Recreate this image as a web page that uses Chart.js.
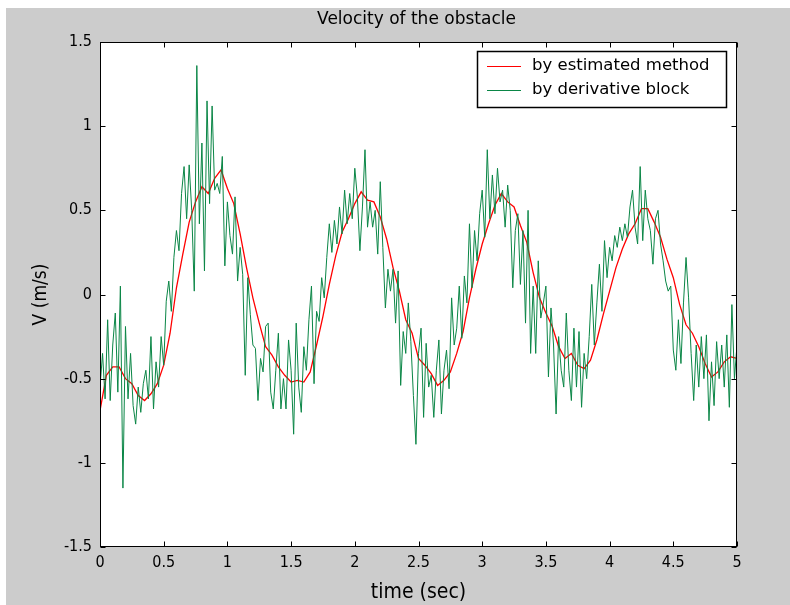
<!DOCTYPE html>
<html>
<head>
<meta charset="utf-8">
<script src="https://cdn.jsdelivr.net/npm/chart.js@4.4.1/dist/chart.umd.min.js"></script>
<style>
  html, body { margin: 0; padding: 0; background: #ffffff; }
  #wrap { width: 790px; height: 605px; }
</style>
</head>
<body>
<div id="wrap"><canvas id="c" width="790" height="605"></canvas></div>
<script>
// Sample spacing (seconds) of each recorded series
const estimatedStep = 0.05;
const derivativeStep = 0.02;

// Obstacle velocity from the estimator (m/s), t = 0 .. 5 s
const estimatedVelocity = [
  -0.69, -0.48, -0.43, -0.43, -0.50, -0.53, -0.60, -0.63, -0.59, -0.53,
  -0.42, -0.23,  0.04,  0.24,  0.43,  0.55,  0.64,  0.60,  0.69,  0.74,
   0.63,  0.54,  0.36,  0.16, -0.02, -0.17, -0.31, -0.36, -0.43, -0.48,
  -0.52, -0.51, -0.52, -0.46, -0.30, -0.13,  0.06,  0.23,  0.37,  0.45,
   0.54,  0.61,  0.56,  0.55,  0.46,  0.33,  0.16,  0.02, -0.15, -0.23,
  -0.38, -0.42, -0.47, -0.54, -0.51, -0.46, -0.35, -0.22, -0.02,  0.15,
   0.30,  0.42,  0.53,  0.60,  0.55,  0.52,  0.41,  0.31,  0.13, -0.02,
  -0.11, -0.19, -0.31, -0.38, -0.35, -0.42, -0.44, -0.39, -0.27, -0.12,
   0.02,  0.16,  0.27,  0.36,  0.42,  0.51,  0.51,  0.43,  0.34,  0.21,
   0.10, -0.06, -0.18, -0.23, -0.31, -0.41, -0.49, -0.46, -0.40, -0.37,
  -0.38
];

// Obstacle velocity from the derivative block (m/s), t = 0 .. 5 s
const derivativeVelocity = [
  -0.55, -0.35, -0.62, -0.15, -0.63, -0.30, -0.11, -0.58,  0.05, -1.15,
  -0.19, -0.62, -0.35, -0.66, -0.77, -0.55, -0.70, -0.53, -0.45, -0.62,
  -0.25, -0.68, -0.40, -0.55, -0.25, -0.42, -0.04,  0.08, -0.10,  0.22,
   0.38,  0.26,  0.60,  0.76,  0.45,  0.77,  0.50,  0.02,  1.36,  0.42,
   0.90,  0.14,  1.15,  0.54,  1.12,  0.62,  0.66,  0.60,  0.82,  0.17,
   0.55,  0.35,  0.24,  0.58,  0.08,  0.28,  0.12, -0.48,  0.10, -0.12,
  -0.30, -0.32, -0.63, -0.38, -0.46, -0.19, -0.17, -0.58, -0.68, -0.45,
  -0.23, -0.68, -0.50, -0.68, -0.27, -0.45, -0.83, -0.17, -0.55, -0.70,
  -0.31, -0.45, -0.15,  0.05, -0.53, -0.10, -0.16,  0.10, -0.02,  0.22,
   0.42,  0.25,  0.44,  0.30,  0.52,  0.36,  0.62,  0.42,  0.60,  0.45,
   0.75,  0.58,  0.26,  0.52,  0.86,  0.40,  0.55,  0.40,  0.50,  0.24,
   0.67,  0.28, -0.08,  0.15,  0.02,  0.15, -0.17,  0.14, -0.54, -0.22,
  -0.35, -0.05, -0.28, -0.60, -0.89, -0.35, -0.20, -0.73, -0.29, -0.55,
  -0.48, -0.73, -0.45, -0.27, -0.71, -0.45, -0.33, -0.56, -0.02, -0.30,
  -0.20,  0.05, -0.26,  0.11, -0.05,  0.42,  0.04,  0.38,  0.20,  0.48,
   0.62,  0.34,  0.86,  0.45,  0.71,  0.48,  0.75,  0.55,  0.62,  0.40,
   0.65,  0.50,  0.04,  0.38,  0.48,  0.06,  0.38, -0.17,  0.50, -0.35,
   0.05, -0.35,  0.20, -0.14, -0.05,  0.05, -0.49, -0.08, -0.30, -0.71,
  -0.25, -0.45, -0.55, -0.11, -0.45, -0.63, -0.20, -0.55, -0.22, -0.67,
  -0.35, -0.50, -0.25,  0.06, -0.30, -0.05,  0.18, -0.10,  0.32,  0.10,
   0.28,  0.20,  0.35,  0.28,  0.40,  0.32,  0.42,  0.34,  0.52,  0.62,
   0.40,  0.30,  0.76,  0.32,  0.62,  0.45,  0.38,  0.18,  0.45,  0.50,
   0.30,  0.20,  0.08,  0.02,  0.05, -0.33, -0.45, -0.15, -0.41, -0.05,
   0.22, -0.02, -0.35, -0.63, -0.30, -0.55, -0.25, -0.50, -0.24, -0.75,
  -0.40, -0.66, -0.28, -0.50, -0.30, -0.55, -0.24, -0.67, -0.06, -0.50,
  -0.30
];

// Axis ticks
const timeTicks = [0, 0.5, 1, 1.5, 2, 2.5, 3, 3.5, 4, 4.5, 5];
const timeTickLabels = ['0', '0.5', '1', '1.5', '2', '2.5', '3', '3.5', '4', '4.5', '5'];
const velocityTicks = [-1.5, -1, -0.5, 0, 0.5, 1, 1.5];
const velocityTickLabels = ['-1.5', '-1', '-0.5', '0', '0.5', '1', '1.5'];

const seriesNames = ['by estimated method', 'by derivative block'];
const titleText = 'Velocity of the obstacle';

const toPoints = (values, step) =>
  values.map((v, i) => ({ x: Math.round(i * step * 1000) / 1000, y: v }));

const narrowFont = "'Liberation Sans Narrow', 'DejaVu Sans Condensed', 'Liberation Sans', sans-serif";
const plainFont = "'DejaVu Sans', 'Liberation Sans', sans-serif";

const RED = '#ff0000';
const GREEN = '#0a8646';

// Figure background, inward tick marks, axes box, title and boxed legend
const figureDecor = {
  id: 'figureDecor',
  beforeDraw(chart) {
    const ctx = chart.ctx;
    const a = chart.chartArea;
    ctx.save();
    ctx.fillStyle = '#ffffff';
    ctx.fillRect(0, 0, chart.width, chart.height);
    ctx.fillStyle = '#cccccc';
    ctx.fillRect(6, 8, chart.width - 6, chart.height - 8);
    ctx.fillStyle = '#ffffff';
    ctx.fillRect(a.left, a.top, a.right - a.left, a.bottom - a.top);
    ctx.restore();
  },
  afterDatasetsDraw(chart) {
    const ctx = chart.ctx;
    const a = chart.chartArea;
    const xs = chart.scales.x, ys = chart.scales.y;
    const L = Math.round(a.left) + 0.5, R = Math.round(a.right) - 0.5;
    const T = Math.round(a.top) + 0.5, B = Math.round(a.bottom) - 0.5;
    const tick = 5;
    ctx.save();
    ctx.strokeStyle = '#000000';
    ctx.lineWidth = 1;
    ctx.beginPath();
    timeTicks.forEach(v => {
      const px = Math.round(xs.getPixelForValue(v)) + 0.5;
      ctx.moveTo(px, B); ctx.lineTo(px, B - tick);
      ctx.moveTo(px, T); ctx.lineTo(px, T + tick);
    });
    velocityTicks.forEach(v => {
      const py = Math.round(ys.getPixelForValue(v)) + 0.5;
      ctx.moveTo(L, py); ctx.lineTo(L + tick, py);
      ctx.moveTo(R, py); ctx.lineTo(R - tick, py);
    });
    ctx.stroke();
    ctx.strokeRect(L, T, R - L, B - T);

    // title
    ctx.fillStyle = '#000000';
    ctx.font = '17px ' + plainFont;
    ctx.textAlign = 'center';
    ctx.textBaseline = 'middle';
    ctx.fillText(titleText, (a.left + a.right) / 2 - 2, 20);

    // legend box
    const bx = 477.5, by = 51.5, bw = 249, bh = 56;
    ctx.fillStyle = '#ffffff';
    ctx.fillRect(bx, by, bw, bh);
    ctx.lineWidth = 1.5;
    ctx.strokeStyle = '#000000';
    ctx.strokeRect(bx, by, bw, bh);
    const colors = [RED, GREEN];
    ctx.font = '16.5px ' + plainFont;
    ctx.textAlign = 'left';
    seriesNames.forEach((name, i) => {
      const ly = 66 + i * 24;
      ctx.strokeStyle = colors[i];
      ctx.lineWidth = 1.2;
      ctx.beginPath();
      ctx.moveTo(487, ly + 0.5); ctx.lineTo(521, ly + 0.5);
      ctx.stroke();
      ctx.fillStyle = '#000000';
      ctx.fillText(name, 532, ly);
    });
    ctx.restore();
  }
};

new Chart(document.getElementById('c'), {
  type: 'line',
  data: {
    datasets: [
      {
        label: seriesNames[1],
        data: toPoints(derivativeVelocity, derivativeStep),
        borderColor: GREEN,
        borderWidth: 1,
        pointRadius: 0,
        tension: 0
      },
      {
        label: seriesNames[0],
        data: toPoints(estimatedVelocity, estimatedStep),
        borderColor: RED,
        borderWidth: 1.3,
        pointRadius: 0,
        tension: 0
      }
    ]
  },
  options: {
    responsive: false,
    animation: false,
    devicePixelRatio: 1,
    layout: { padding: { left: 0, top: 42, right: 53, bottom: 0 } },
    plugins: { legend: { display: false }, tooltip: { enabled: false }, title: { display: false } },
    scales: {
      x: {
        type: 'linear',
        min: 0, max: 5,
        afterBuildTicks(scale) { scale.ticks = timeTicks.map(v => ({ value: v })); },
        afterFit(scale) { scale.height = 58; },
        grid: { display: false, drawTicks: false },
        border: { display: false },
        ticks: {
          padding: 6,
          color: '#000000',
          maxRotation: 0,
          autoSkip: false,
          font: { family: narrowFont, size: 16 },
          callback: (v, i) => timeTickLabels[i]
        },
        title: {
          display: true,
          text: 'time (sec)',
          color: '#000000',
          font: { family: narrowFont, size: 21 },
          padding: { top: 0, bottom: 0 }
        }
      },
      y: {
        type: 'linear',
        min: -1.5, max: 1.5,
        afterBuildTicks(scale) { scale.ticks = velocityTicks.map(v => ({ value: v })); },
        afterFit(scale) { scale.width = 100; },
        grid: { display: false, drawTicks: false },
        border: { display: false },
        ticks: {
          padding: 8,
          color: '#000000',
          autoSkip: false,
          font: { family: narrowFont, size: 16 },
          callback: (v, i) => velocityTickLabels[i]
        },
        title: {
          display: true,
          text: 'V (m/s)',
          color: '#000000',
          font: { family: narrowFont, size: 19 },
          padding: { top: 30, bottom: 0 }
        }
      }
    }
  },
  plugins: [figureDecor]
});
</script>
</body>
</html>
